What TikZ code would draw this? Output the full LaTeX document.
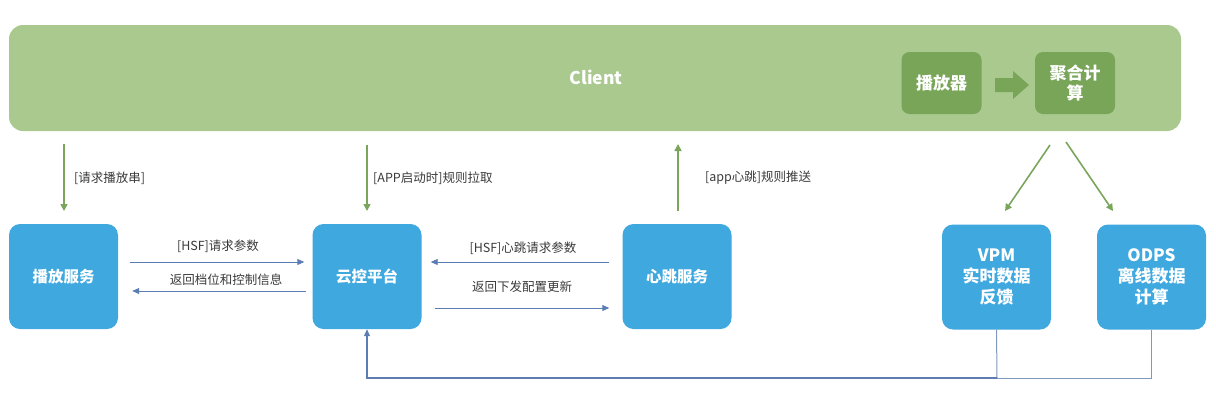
\documentclass[tikz,border=0pt]{standalone}
\usepackage{fontspec}
\setmainfont{Noto Sans CJK SC}
\usetikzlibrary{arrows.meta}
\definecolor{clientg}{HTML}{A9C98F}
\definecolor{darkg}{HTML}{78A558}
\definecolor{arrg}{HTML}{7AA65C}
\definecolor{boxb}{HTML}{3EA8DF}
\definecolor{arrb}{HTML}{5B7DB3}
\definecolor{lineb}{HTML}{8098BC}
\definecolor{txt}{HTML}{3A3A3A}
\tikzset{
  bluebox/.style={fill=boxb, draw=none, rounded corners=11pt, minimum width=109pt, minimum height=105pt, text=white, font=\bfseries\fontsize{15.5}{18}\selectfont, align=center, inner sep=0pt},
  bigtxt/.style={font=\bfseries\fontsize{17}{21}\selectfont},
  greenbox/.style={fill=darkg, draw=none, rounded corners=8pt, minimum width=80pt, minimum height=62pt, text=white, font=\bfseries\fontsize{17}{20}\selectfont, align=center, inner sep=0pt},
  garrow/.style={draw=arrg, line width=1.6pt, -{Triangle[length=7pt,width=7pt]}},
  barrow/.style={draw=arrb, line width=0.9pt, -{Triangle[length=7pt,width=6pt]}},
  lbl/.style={text=txt, font=\fontsize{12.5}{15}\selectfont, inner sep=0pt},
}
\begin{document}
\begin{tikzpicture}[x=1pt,y=-1pt]
\useasboundingbox (0,0) rectangle (1216,400);
% client
\node[fill=clientg, rounded corners=14pt, minimum width=1172pt, minimum height=106pt, inner sep=0pt] (client) at (595,78) {};
\node[text=white, font=\bfseries\fontsize{17.5}{20}\selectfont] (clienttxt) at (596,77) {Client};
\node[greenbox] (player) at (941.5,83) {播放器};
\node[greenbox] (agg) at (1075,83) {聚合计\\算};
\fill[darkg] (995,78) -- (1013,78) -- (1013,71) -- (1029,85) -- (1013,99) -- (1013,92) -- (995,92) -- cycle;
% blue boxes
\node[bluebox] (play) at (63.5,276.5) {播放服务};
\node[bluebox] (cloud) at (367,276.5) {云控平台};
\node[bluebox] (heart) at (677,276.5) {心跳服务};
\node[bluebox, bigtxt] (vpm) at (996.5,277) {VPM\\实时数据\\反馈};
\node[bluebox, bigtxt] (odps) at (1151.5,277) {ODPS\\离线数据\\计算};
% green arrows
\coordinate (c1) at (64,144); \coordinate (c1e) at (64,211);
\draw[garrow] (c1) -- (c1e);
\node[lbl, anchor=west] (l1) at (74,178) {[请求播放串]};
\coordinate (c2) at (367,145); \coordinate (c2e) at (367,211);
\draw[garrow] (c2) -- (c2e);
\node[lbl, anchor=west] (l2) at (373,178) {[APP启动时]规则拉取};
\coordinate (c3) at (678,211); \coordinate (c3e) at (678,144);
\draw[garrow] (c3) -- (c3e);
\node[lbl, anchor=west] (l3) at (705,178) {[app心跳]规则推送};
\coordinate (c4) at (1050,145); \coordinate (c4e) at (1005,211);
\draw[garrow] (c4) -- (c4e);
\coordinate (c5) at (1066,142); \coordinate (c5e) at (1113,211);
\draw[garrow] (c5) -- (c5e);
% blue horizontal arrows
\draw[barrow] ([xshift=12pt]play.east |- 0,262) -- ([xshift=-8pt]cloud.west |- 0,262);
\node[lbl] (h1) at (218,246) {[HSF]请求参数};
\draw[barrow] ([xshift=-6pt]cloud.west |- 0,291) -- ([xshift=14pt]play.east |- 0,291);
\node[lbl] (h2) at (226,280) {返回档位和控制信息};
\draw[barrow] ([xshift=-13pt]heart.west |- 0,262) -- ([xshift=9pt]cloud.east |- 0,262);
\node[lbl] (h3) at (523,248) {[HSF]心跳请求参数};
\draw[barrow] ([xshift=13pt]cloud.east |- 0,308) -- ([xshift=-13pt]heart.west |- 0,308);
\node[lbl] (h4) at (522,287) {返回下发配置更新};
% bottom feedback
\coordinate (j) at (997,378);
\draw[draw=lineb, line width=1pt] (odps.south) -- (odps.south |- j) -- (j);
\draw[draw=lineb, line width=1pt] (vpm.south) -- (j);
\draw[draw=arrb, line width=1.1pt, -{Triangle[length=7pt,width=6pt]}] (j) -- (cloud.south |- j) -- (cloud.south);
\end{tikzpicture}
\end{document}
